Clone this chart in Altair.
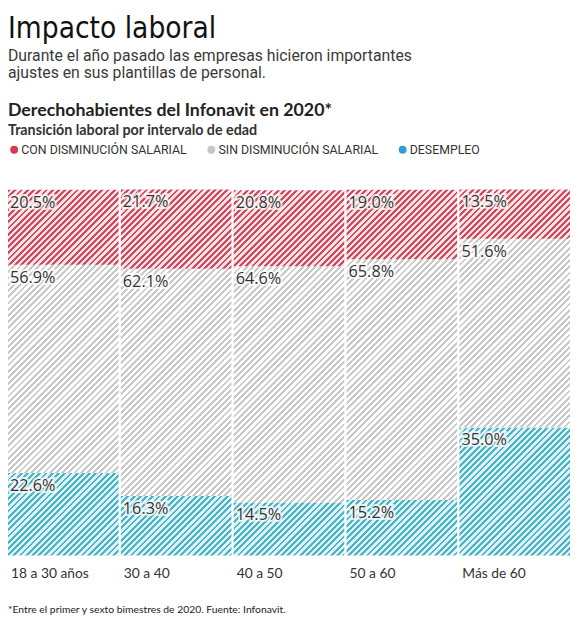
import altair as alt
import pandas as pd

# ---------------- data ----------------
categories = ["18 a 30 años", "30 a 40", "40 a 50", "50 a 60", "Más de 60"]
con_disminucion = [20.5, 21.7, 20.8, 19.0, 13.5]
sin_disminucion = [56.9, 62.1, 64.6, 65.8, 51.6]
desempleo = [22.6, 16.3, 14.5, 15.2, 35.0]

series = ["CON DISMINUCIÓN SALARIAL", "SIN DISMINUCIÓN SALARIAL", "DESEMPLEO"]
dot_colors = ["#d63a52", "#c6c6c6", "#2f9fd4"]
stripe_fg = {series[0]: "#cf4a5d", series[1]: "#c9c9c9", series[2]: "#4db3c2"}
stripe_bg = {series[0]: "#f8e1e4", series[1]: "#ffffff", series[2]: "#dcf4f7"}

# ---------------- layout ----------------
W, H = 570, 371
PAD_INNER = 0.02
step = W / (len(categories) - PAD_INNER)
bandw = step * (1 - PAD_INNER)
PERIOD = 6.3   # horizontal stripe period in px
FRAC = 0.45    # stripe share of the period


def hatch(w, h, fg, bg):
    n = (w + h) / PERIOD
    s = w * w + h * h
    x2 = w * (w + h) / s
    y2 = h * (w + h) / s
    stops = []
    k = 0
    while k / n < 1:
        a = round(k / n, 5)
        b = round(min((k + FRAC) / n, 1), 5)
        c = round(min((k + 1) / n, 1), 5)
        stops += [
            {"offset": a, "color": fg},
            {"offset": b, "color": fg},
            {"offset": b, "color": bg},
            {"offset": c, "color": bg},
        ]
        k += 1
    return alt.LinearGradient(gradient="linear", x1=0, y1=0, x2=x2, y2=y2, stops=stops)


rows = []
for i, cat in enumerate(categories):
    d, s_, c = desempleo[i], sin_disminucion[i], con_disminucion[i]
    for serie, v, y0 in [
        (series[2], d, 0.0),
        (series[1], s_, d),
        (series[0], c, d + s_),
    ]:
        rows.append({"cat": cat, "serie": serie, "value": v, "y0": y0, "y1": y0 + v})
df = pd.DataFrame(rows)
df["id"] = range(len(df))
df["label"] = df["value"].map(lambda v: f"{v:.1f}%")

conds = []
for _, r in df.iterrows():
    h = r["value"] / 100 * H
    conds.append(
        alt.ConditionalPredicateValueDefGradientstringnullExprRef(
            test=f"datum.id === {int(r['id'])}",
            value=hatch(bandw, h, stripe_fg[r["serie"]], stripe_bg[r["serie"]]),
        )
    )

xenc = alt.X(
    "cat:N",
    sort=categories,
    scale=alt.Scale(paddingInner=PAD_INNER, paddingOuter=0),
    axis=alt.Axis(
        title=None, domain=False, ticks=False, labelAngle=0, labelAlign="left",
        labelOffset=-bandw / 2 + 3, labelPadding=11, labelFont="Lato",
        labelFontSize=14, labelColor="#333333",
    ),
)
yscale = alt.Scale(domain=[0, 100], nice=False)

bars = alt.Chart(df).mark_bar().encode(
    x=xenc,
    y=alt.Y("y0:Q", scale=yscale, axis=None),
    y2="y1:Q",
    fill=alt.FillValue(value="#ffffff", condition=conds),
)

label_kw = dict(align="left", baseline="alphabetic", dx=2, dy=18, font="Open Sans", fontSize=16.5)
halo = alt.Chart(df).mark_text(
    stroke="white", strokeWidth=4, strokeOpacity=0.75, color="white", **label_kw
).encode(
    x=alt.X("cat:N", sort=categories, bandPosition=0),
    y=alt.Y("y1:Q", scale=yscale),
    text="label:N",
)
labels = alt.Chart(df).mark_text(color="#333333", **label_kw).encode(
    x=alt.X("cat:N", sort=categories, bandPosition=0),
    y=alt.Y("y1:Q", scale=yscale),
    text="label:N",
)

legend_layer = alt.Chart(df).mark_point(filled=True, shape="circle", opacity=0).encode(
    x=alt.X("cat:N", sort=categories),
    y=alt.Y("y1:Q", scale=yscale),
    color=alt.Color(
        "serie:N",
        scale=alt.Scale(domain=series, range=dot_colors),
        legend=alt.Legend(
            title=None, orient="none", legendX=0, legendY=-47, direction="horizontal",
            symbolType="circle", symbolSize=64, symbolOpacity=1, symbolStrokeWidth=0,
            labelFont="Roboto", labelFontSize=12.5, labelColor="#333333", labelLimit=400,
            labelOffset=1, columnPadding=18, padding=0,
        ),
    ),
)


def header(text, y, font, size, weight, color):
    return alt.Chart(pd.DataFrame({"t": [text]})).mark_text(
        align="left", baseline="alphabetic", font=font, fontSize=size,
        fontWeight=weight, color=color,
    ).encode(x=alt.value(0), y=alt.value(y), text="t:N")


headers = [
    header("Impacto laboral", -154, "DejaVu Sans Condensed, sans-serif", 30, "normal", "#111111"),
    header("Durante el año pasado las empresas hicieron importantes", -131, "Roboto", 16, "normal", "#3a3a3a"),
    header("ajustes en sus plantillas de personal.", -113, "Roboto", 16, "normal", "#3a3a3a"),
    header("Derechohabientes del Infonavit en 2020*", -75, "Lato", 18, "bold", "#222222"),
    header("Transición laboral por intervalo de edad", -56, "Lato", 14.5, "bold", "#333333"),
    header("*Entre el primer y sexto bimestres de 2020. Fuente: Infonavit.", 429, "Lato", 10.5, "normal", "#222222"),
]

chart = alt.layer(bars, halo, labels, legend_layer, *headers).properties(
    width=W, height=H,
    autosize=alt.AutoSizeParams(type="none"),
    padding={"left": 0, "top": 180, "right": 0, "bottom": 61},
    background="white",
).configure_view(stroke=None)

chart.save("out.html", embed_options={"renderer": "svg", "actions": False})
